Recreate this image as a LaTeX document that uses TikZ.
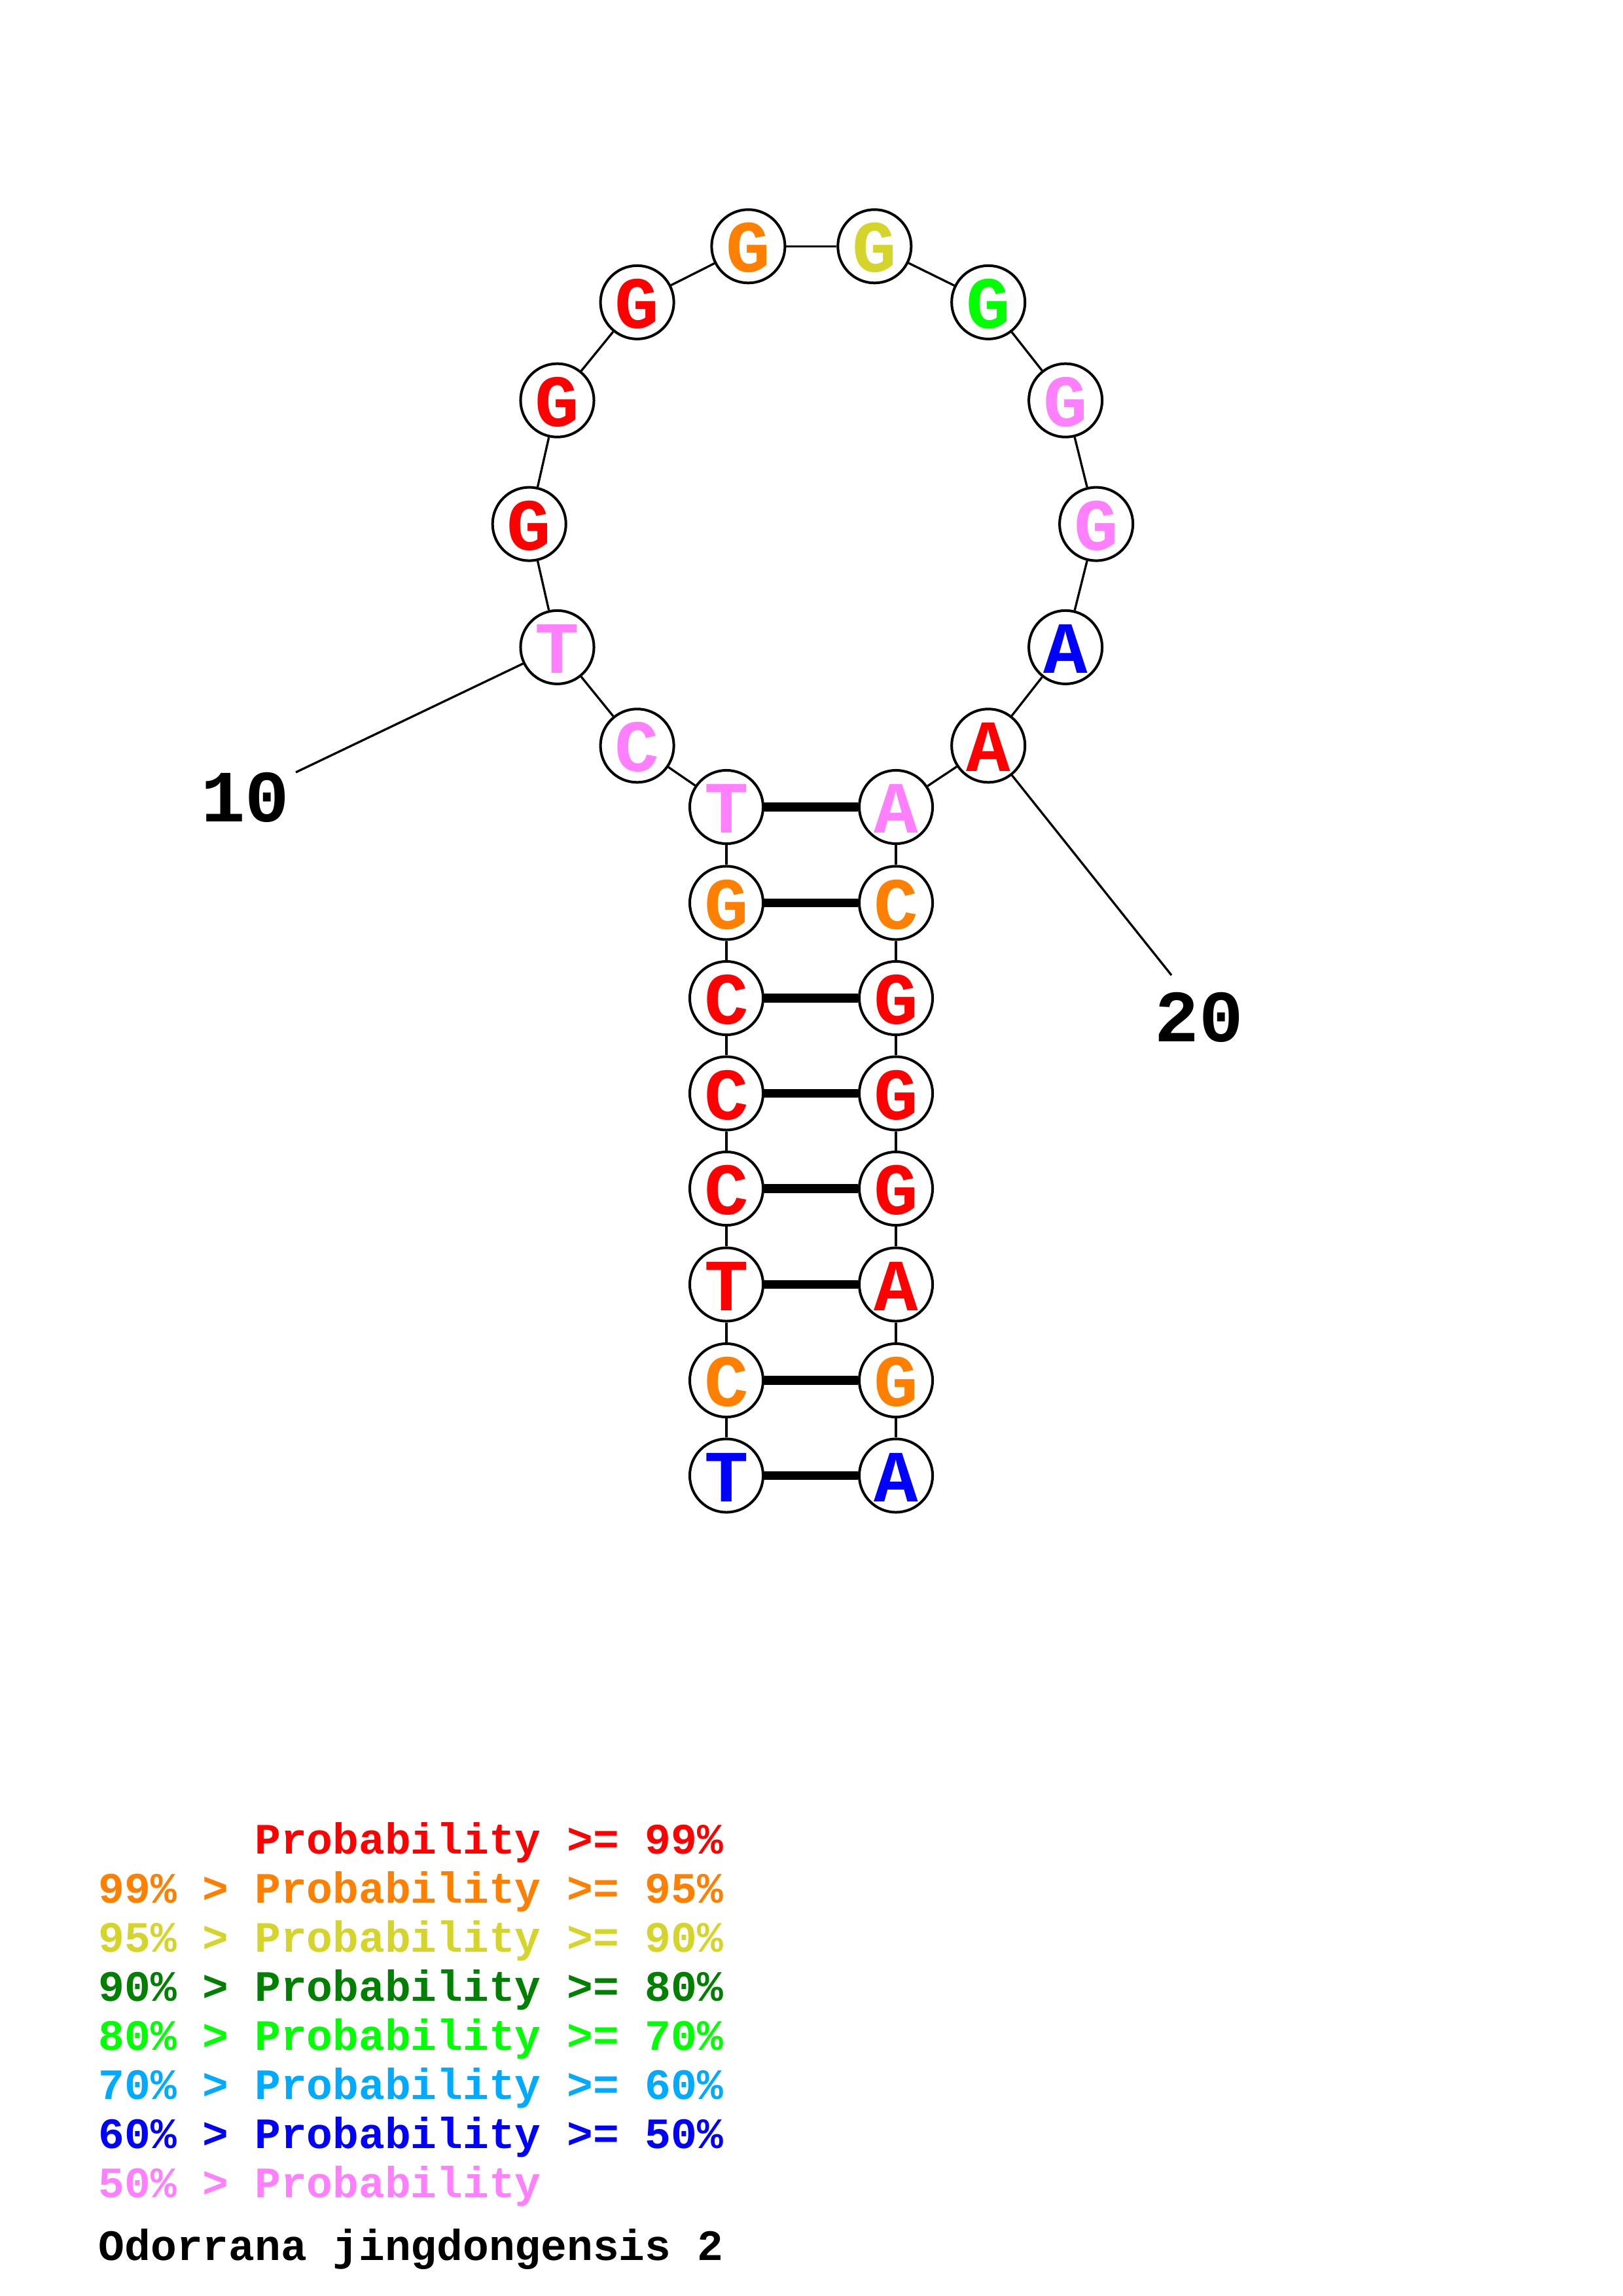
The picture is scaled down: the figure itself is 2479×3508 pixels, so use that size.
\documentclass[tikz,border=0pt]{standalone}
\usepackage{fontspec}
\newfontfamily\mono{Liberation Mono}
\definecolor{cR}{RGB}{255,0,0}
\definecolor{cO}{RGB}{255,128,0}
\definecolor{cY}{RGB}{212,212,42}
\definecolor{cD}{RGB}{0,128,0}
\definecolor{cG}{RGB}{0,255,0}
\definecolor{cL}{RGB}{0,170,255}
\definecolor{cB}{RGB}{0,0,255}
\definecolor{cP}{RGB}{255,128,255}
\begin{document}
\begin{tikzpicture}[x=0.24pt,y=-0.24pt,
  nt/.style={draw, circle, line width=0.96pt, minimum size=26.9pt, inner sep=0pt,
    font=\mono\bfseries\fontsize{27}{27}\selectfont, text height=19pt, text depth=0pt},
  bb/.style={line width=0.8pt},
  bp/.style={line width=3.2pt},
  lab/.style={inner sep=0pt, font=\mono\bfseries\fontsize{27}{27}\selectfont},
  leg/.style={anchor=base west, inner sep=0pt, font=\mono\bfseries\fontsize{15.9}{15.9}\selectfont}]
\useasboundingbox (0,0) rectangle (2479,3508);
% nucleotides
\foreach \i/\x/\y/\l/\c in {
  1/1110/2254.5/T/cB, 2/1110/2109/C/cO, 3/1110/1962.5/T/cR, 4/1110/1816/C/cR,
  5/1110/1670.5/C/cR, 6/1110/1525/C/cR, 7/1110/1379.5/G/cO, 8/1110/1233/T/cP,
  9/973.6/1139.3/C/cP, 10/851.5/988.9/T/cP, 11/808.7/800.6/G/cR, 12/851.5/611.7/G/cR,
  13/973.6/461.9/G/cR, 14/1143.4/376.3/G/cO, 15/1336.3/376.3/G/cY, 16/1510.2/461.9/G/cG,
  17/1628.1/611.7/G/cP, 18/1675.1/800.6/G/cP, 19/1628.1/988.9/A/cB, 20/1510.2/1139.3/A/cR,
  21/1369/1233/A/cP, 22/1369/1379.5/C/cO, 23/1369/1525/G/cR, 24/1369/1670.5/G/cR,
  25/1369/1816/G/cR, 26/1369/1962.5/A/cR, 27/1369/2109/G/cO, 28/1369/2254.5/A/cB}
  \node[nt, text=\c] (n\i) at (\x,\y) {\l};
% backbone
\foreach \i in {1,...,27}{
  \pgfmathtruncatemacro{\j}{\i+1}
  \draw[bb] (n\i) -- (n\j);
}
% base pairs
\foreach \i in {1,...,8}{
  \pgfmathtruncatemacro{\j}{29-\i}
  \draw[bp] (n\i) -- (n\j);
}
% position labels
\node[lab] (l10) at (375,1218) {10};
\coordinate (e10) at (452,1180);
\draw[bb] (n10) -- (e10);
\node[lab] (l20) at (1832,1554) {20};
\coordinate (e20) at (1790,1490);
\draw[bb] (n20) -- (e20);
% legend
\node[leg, text=cR] (g1) at (150,2832) {\phantom{99\% >} Probability >= 99\%};
\node[leg, text=cO] (g2) at (150,2907) {99\% > Probability >= 95\%};
\node[leg, text=cY] (g3) at (150,2982) {95\% > Probability >= 90\%};
\node[leg, text=cD] (g4) at (150,3057) {90\% > Probability >= 80\%};
\node[leg, text=cG] (g5) at (150,3132) {80\% > Probability >= 70\%};
\node[leg, text=cL] (g6) at (150,3207) {70\% > Probability >= 60\%};
\node[leg, text=cB] (g7) at (150,3282) {60\% > Probability >= 50\%};
\node[leg, text=cP] (g8) at (150,3357) {50\% > Probability};
\node[leg, text=black] (title) at (150,3453) {Odorrana jingdongensis 2};
\end{tikzpicture}
\end{document}
